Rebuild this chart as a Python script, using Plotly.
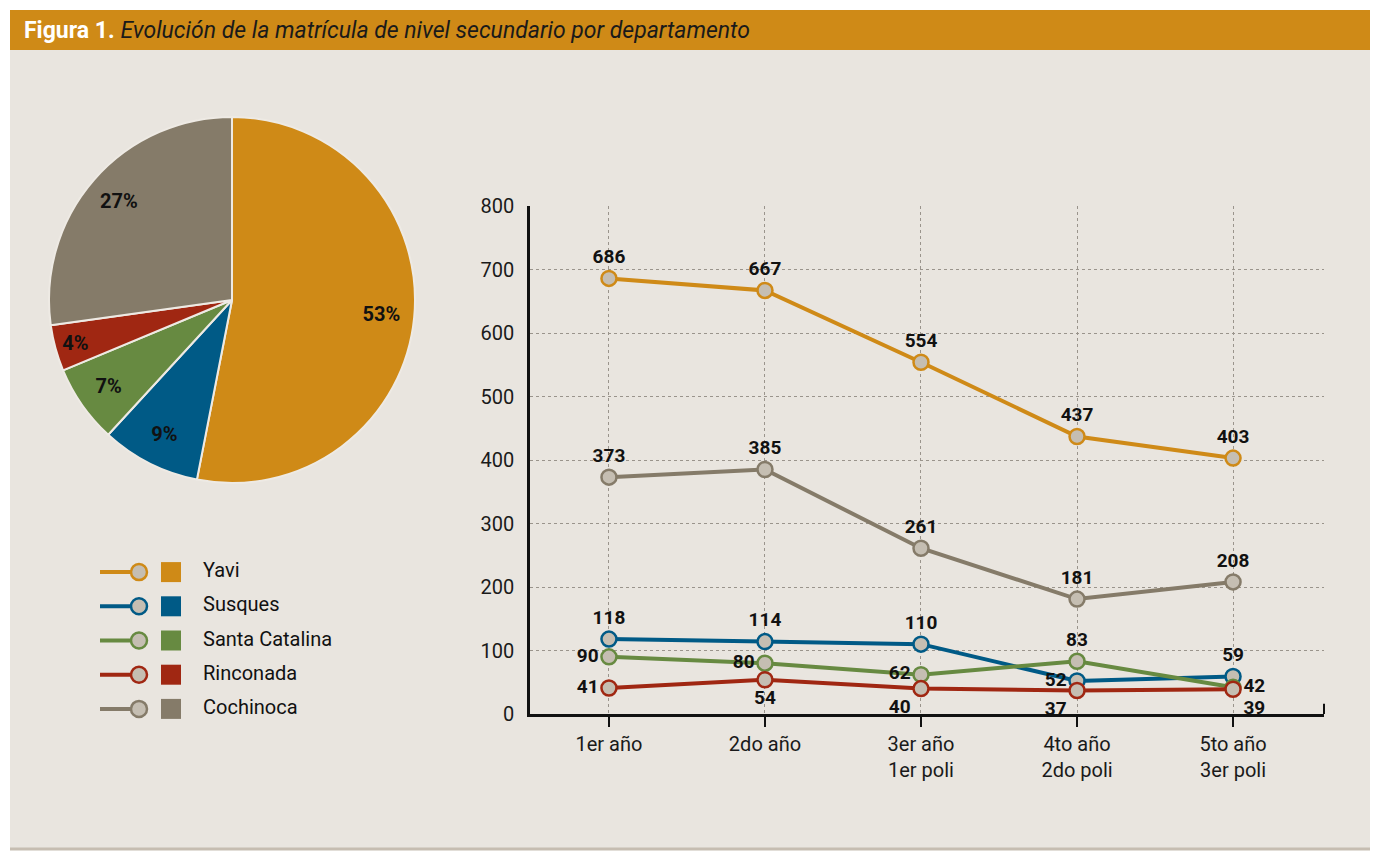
import plotly.graph_objects as go

# ---------------- data ----------------
categories = ["1er año", "2do año", "3er año<br>1er poli", "4to año<br>2do poli", "5to año<br>3er poli"]
departments = ["Yavi", "Susques", "Santa Catalina", "Rinconada", "Cochinoca"]
yavi = [686, 667, 554, 437, 403]
susques = [118, 114, 110, 52, 59]
santa_catalina = [90, 80, 62, 83, 42]
rinconada = [41, 54, 40, 37, 39]
cochinoca = [373, 385, 261, 181, 208]
pie_values = [2747, 453, 357, 211, 1408]
y_ticks = [0, 100, 200, 300, 400, 500, 600, 700, 800]

# ---------------- style ----------------
colors = {"Yavi": "#CF8A17", "Susques": "#005A86", "Santa Catalina": "#678A41",
          "Rinconada": "#A02712", "Cochinoca": "#857B69"}
marker_fill = "#C5BEB2"
bg = "#E9E5DF"
FONT = "Roboto, Liberation Sans, sans-serif"
W, H = 1373, 853

series = [
    ("Yavi", yavi, ["top center"] * 5),
    ("Cochinoca", cochinoca, ["top center"] * 5),
    ("Susques", susques, ["top center", "top center", "top center", "middle left", "top center"]),
    ("Santa Catalina", santa_catalina, ["middle left", "middle left", "middle left", "top center", "middle right"]),
    ("Rinconada", rinconada, ["middle left", "bottom center", "bottom left", "bottom left", "bottom right"]),
]

fig = go.Figure()

# pie
pie_domain = dict(x=[49 / W, 415 / W], y=[1 - 483 / H, 1 - 117 / H])
fig.add_trace(go.Pie(
    labels=departments, values=pie_values, sort=False, direction="clockwise", rotation=0,
    marker=dict(colors=[colors[d] for d in departments], line=dict(color="#EEEAE4", width=2)),
    textinfo="none", showlegend=False, domain=pie_domain,
))
fig.add_trace(go.Pie(
    labels=departments, values=pie_values, sort=False, direction="clockwise", rotation=0,
    hole=0.64,
    marker=dict(colors=["rgba(0,0,0,0)"] * 5, line=dict(color="rgba(0,0,0,0)", width=0)),
    texttemplate="<b>%{percent:.0%}</b>", textposition="inside", insidetextorientation="horizontal",
    textfont=dict(family=FONT, size=20, color="#111111"),
    showlegend=False, domain=pie_domain, hoverinfo="skip",
))

# lines
xs = list(range(len(categories)))
for name, vals, pos in series:
    fig.add_trace(go.Scatter(
        x=xs, y=vals, name=name, mode="lines+markers+text",
        text=[str(v) for v in vals], textposition=pos,
        textfont=dict(family=FONT, size=19, color="#111111", weight="bold"),
        line=dict(color=colors[name], width=4),
        marker=dict(size=15, color=marker_fill, line=dict(color=colors[name], width=2.5)),
        showlegend=False, xaxis="x", yaxis="y", cliponaxis=False,
    ))

# custom legend (auxiliary axis, px-like units)
for name in departments:
    fig.add_trace(go.Scatter(
        x=[0, 39], y=[name, name], mode="lines",
        line=dict(color=colors[name], width=4),
        xaxis="x3", yaxis="y3", showlegend=False, hoverinfo="skip",
    ))
fig.add_trace(go.Scatter(
    x=[39] * len(departments), y=departments, mode="markers",
    marker=dict(size=16, color=marker_fill, opacity=1,
                line=dict(color=[colors[d] for d in departments], width=2.5)),
    xaxis="x3", yaxis="y3", showlegend=False, hoverinfo="skip", cliponaxis=False,
))
fig.add_trace(go.Scatter(
    x=[71] * len(departments), y=departments, mode="markers",
    marker=dict(symbol="square", size=20, color=[colors[d] for d in departments], opacity=1),
    xaxis="x3", yaxis="y3", showlegend=False, hoverinfo="skip", cliponaxis=False,
))
fig.add_trace(go.Scatter(
    x=[103] * len(departments), y=departments, mode="text",
    text=departments, textposition="middle right",
    textfont=dict(family=FONT, size=20, color="#111111"),
    xaxis="x3", yaxis="y3", showlegend=False, hoverinfo="skip", cliponaxis=False,
))

shapes = [
    dict(type="rect", xref="paper", yref="paper", x0=10 / W, x1=1370 / W, y0=1 - 848 / H, y1=1 - 50 / H,
         fillcolor=bg, line=dict(width=0), layer="below"),
    dict(type="rect", xref="paper", yref="paper", x0=10 / W, x1=1370 / W, y0=1 - 50 / H, y1=1 - 10 / H,
         fillcolor="#CF8A17", line=dict(width=0), layer="below"),
    dict(type="line", xref="paper", yref="paper", x0=10 / W, x1=1370 / W, y0=1 - 849 / H, y1=1 - 849 / H,
         line=dict(color="#C6BDB1", width=3), layer="below"),
    dict(type="line", xref="x domain", yref="y", x0=1, x1=1, y0=0, y1=16,
         line=dict(color="#111111", width=2)),
]

fig.update_layout(
    width=W, height=H, margin=dict(l=0, r=0, t=0, b=0, autoexpand=False),
    paper_bgcolor="white", plot_bgcolor="rgba(0,0,0,0)",
    font=dict(family=FONT, color="#111111"),
    shapes=shapes,
    xaxis=dict(domain=[530 / W, 1324 / W], range=[-0.506, 4.583], tickvals=xs, ticktext=categories,
               showgrid=True, gridcolor="#9A948C", griddash="dot", gridwidth=1,
               showline=True, linecolor="#111111", linewidth=2.5,
               ticks="outside", ticklen=10, tickwidth=2, tickcolor="#111111", automargin=False,
               tickfont=dict(family=FONT, size=20, color="#1A1A1A"), zeroline=False, fixedrange=True),
    yaxis=dict(domain=[1 - 714 / H, 1 - 206 / H], range=[0, 800], tickvals=y_ticks,
               showgrid=True, gridcolor="#9A948C", griddash="dot", gridwidth=1,
               showline=True, linecolor="#111111", linewidth=2.5, ticks="", ticklabelstandoff=9,
               automargin=False,
               tickfont=dict(family=FONT, size=20, color="#1A1A1A"), zeroline=False, fixedrange=True),
    xaxis3=dict(domain=[100 / W, 380 / W], range=[0, 280], visible=False, fixedrange=True, automargin=False),
    yaxis3=dict(domain=[1 - 726 / H, 1 - 555 / H], categoryorder="array", categoryarray=departments,
                range=[4.5, -0.5], visible=False, fixedrange=True, automargin=False),
    annotations=[dict(
        xref="paper", yref="paper", x=22 / W, y=1 - 30 / H, xanchor="left", yanchor="middle",
        showarrow=False,
        text="<span style='color:white'><b>Figura 1.</b></span> <i>Evolución de la matrícula de nivel secundario por departamento</i>",
        font=dict(family=FONT, size=23, color="#1A1A1A"),
    )],
)

fig.write_html("out.html", config={"displayModeBar": False},
               post_script="document.body.style.margin='0';")
